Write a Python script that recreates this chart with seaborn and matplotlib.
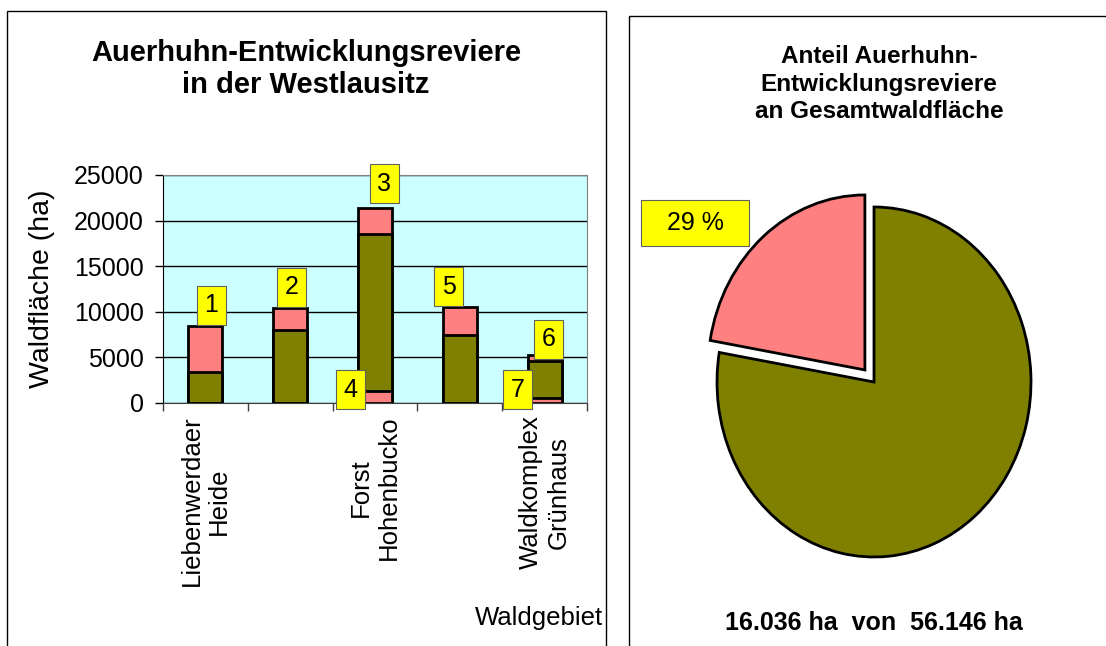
import numpy as np
import pandas as pd
import matplotlib
matplotlib.use("Agg")
import matplotlib.pyplot as plt
from matplotlib.patches import Rectangle
import seaborn as sns

# data
gebiete = ["Liebenwerdaer\nHeide", "", "Forst\nHohenbucko", "", "Waldkomplex\nGrünhaus"]
revier_unten = [0, 0, 1320, 0, 550]          # pink segment at the bottom
wald_rest = [3450, 7950, 17235, 7470, 4060]  # olive part
revier_oben = [4970, 2415, 2855, 3070, 630]  # pink segment on top

# numbered labels: which bar, which pink segment
label_nr = ["1", "2", "3", "4", "5", "6", "7"]
label_gebiet = [0, 1, 2, 2, 3, 4, 4]
label_teil = ["oben", "oben", "oben", "unten", "oben", "oben", "unten"]

# pie: share of the reviere in the whole forest area
anteil_teile = ["Rest", "Reviere"]
anteil_werte = [77.7, 22.3]
anteil_text = "29 %"
summe_text = "16.036 ha  von  56.146 ha"

olive = "#808000"
pink = "#FF8080"
gelb = "#FFFF00"
cyan = "#CCFFFF"

plt.rcParams["font.family"] = ["Liberation Sans", "DejaVu Sans"]

df = pd.DataFrame({"gebiet": range(len(gebiete)),
                   "unten": revier_unten,
                   "wald": wald_rest,
                   "oben": revier_oben})
df["bis_wald"] = df["unten"] + df["wald"]
df["gesamt"] = df["bis_wald"] + df["oben"]

W, H = 1106, 646
fig = plt.figure(figsize=(W / 100, H / 100), dpi=100)

# panel frames
fig.add_artist(Rectangle((7 / W, -0.05), (606 - 7) / W, 1 - 11 / H + 0.05,
                         transform=fig.transFigure, fill=False, ec="black", lw=1))
fig.add_artist(Rectangle((629 / W, -0.05), 0.5, 1 - 16 / H + 0.05,
                         transform=fig.transFigure, fill=False, ec="black", lw=1))

# ---- stacked bar chart ----
ax = fig.add_axes([163 / W, (H - 403) / H, (587 - 163) / W, (403 - 175) / H])
ax.set_facecolor(cyan)
bar_kw = dict(width=0.4, saturation=1, edgecolor="black", linewidth=2, errorbar=None, ax=ax)
sns.barplot(data=df, x="gebiet", y="gesamt", color=pink, **bar_kw)
sns.barplot(data=df, x="gebiet", y="bis_wald", color=olive, **bar_kw)
sns.barplot(data=df, x="gebiet", y="unten", color=pink, **bar_kw)

ax.set_ylim(0, 25000)
ax.set_xlim(-0.5, len(gebiete) - 0.5)
ax.set_yticks(np.arange(0, 25001, 5000))
ax.yaxis.grid(True, color="black", lw=1)
ax.set_axisbelow(True)
ax.set_xticks(range(len(gebiete)))
ax.set_xticklabels(gebiete, rotation=90, fontsize=18.5, linespacing=1.2, multialignment="center")
ax.set_xticks(np.arange(-0.5, len(gebiete)), minor=True)
ax.tick_params(axis="x", which="major", length=0, pad=9)
ax.tick_params(axis="x", which="minor", length=6, width=1, color="#404040")
ax.tick_params(axis="y", labelsize=18, length=6, width=1, pad=8)
for s in ["top", "right"]:
    ax.spines[s].set_color("#808080")
ax.spines["left"].set_color("black")
ax.spines["bottom"].set_color("#404040")
ax.set_xlabel("")
ax.set_ylabel("Waldfläche (ha)", fontsize=20.5)
ax.yaxis.set_label_coords(-0.255, 0.5)

label_offsets = [(6, 21), (1, 21), (9, 24), (-25, 1), (-11, 20), (4, 16), (-27, 8)]
for nr, g, teil, off in zip(label_nr, label_gebiet, label_teil, label_offsets):
    top = df.loc[g, "gesamt"] if teil == "oben" else df.loc[g, "unten"]
    ax.annotate(nr, xy=(g, top), xytext=off, textcoords="offset pixels",
                ha="center", va="center", fontsize=18, annotation_clip=False,
                bbox=dict(boxstyle="square,pad=0.3", fc=gelb, ec="#606060", lw=0.8))

fig.text(306 / W, 1 - 69 / H, "Auerhuhn-Entwicklungsreviere\nin der Westlausitz",
         ha="center", va="center", fontsize=21, fontweight="bold", linespacing=1.15)
fig.text(603 / W, 1 - 618 / H, "Waldgebiet", ha="right", va="center", fontsize=18.5)

# ---- pie chart ----
ax2 = fig.add_axes([701.3 / W, 71.5 / H, 345.4 / W, 385 / H])
ax2.pie(anteil_werte, colors=[olive, pink], startangle=90, counterclock=False,
        explode=[0, 0.09], wedgeprops=dict(edgecolor="black", linewidth=2))
ax2.set_aspect("auto")
ax2.set_xlim(-1.1, 1.1)
ax2.set_ylim(-1.1, 1.1)
ax2.text(-1.14, 0.91, "  " + anteil_text + "  ", ha="center", va="center", fontsize=18,
         bbox=dict(boxstyle="square,pad=0.45", fc=gelb, ec="#606060", lw=0.8))

fig.text(879 / W, 1 - 84 / H, "Anteil Auerhuhn-\nEntwicklungsreviere\nan Gesamtwaldfläche",
         ha="center", va="center", fontsize=17.5, fontweight="bold", linespacing=1.25)
fig.text(874 / W, 1 - 623 / H, summe_text, ha="center", va="center",
         fontsize=18, fontweight="bold")

fig.savefig("out.png", dpi=100)
